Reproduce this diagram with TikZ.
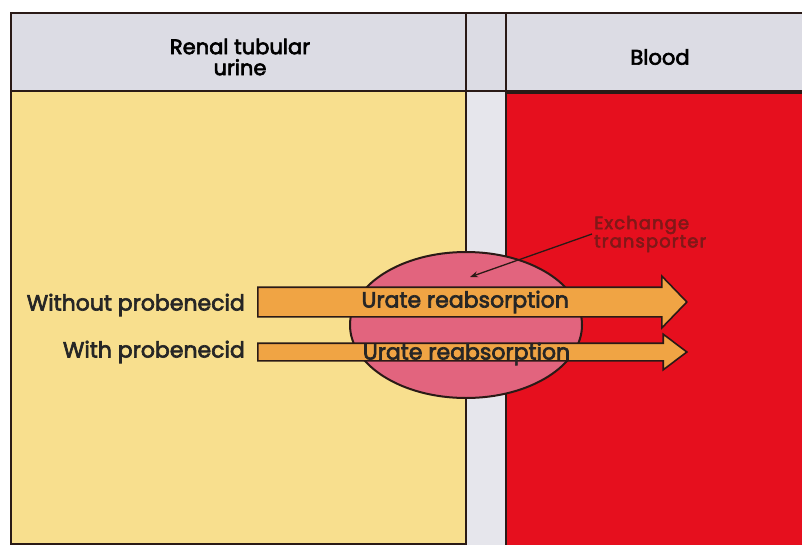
\documentclass[tikz,border=0pt]{standalone}
\usepackage{fontspec}
\setmainfont{Poppins}
\newfontfamily\medfont{Poppins}[FakeBold=3]
\usepackage{tikz}
\usetikzlibrary{
  shapes.geometric,
  shapes.arrows,
  arrows.meta,
  positioning
}
\definecolor{HdrGray}{HTML}{DCDCE4}
\definecolor{UrineYellow}{HTML}{F8DF8E}
\definecolor{MemGray}{HTML}{E6E6EC}
\definecolor{BloodRed}{HTML}{E60F1E}
\definecolor{XPink}{HTML}{E2647E}
\definecolor{UrateOrange}{HTML}{F0A444}
\definecolor{InkBrown}{HTML}{2A1A16}
\definecolor{XText}{HTML}{801818}
\tikzset{
  % Header cell: fixed height, text placed apart
  hdr/.style={
    rectangle, anchor=north west,
    draw=InkBrown, fill=HdrGray, line width=1.6pt,
    minimum height=78pt, inner sep=0pt
  },
  % Header text
  htxt/.style={align=center, font=\medfont\fontsize{21}{21}\selectfont},
  % Body panel
  panel/.style={
    rectangle, anchor=north west,
    draw=InkBrown, fill=#1, line width=1.6pt,
    inner sep=0pt
  },
  % Exchange transporter
  xpt/.style={
    ellipse, draw=InkBrown, fill=XPink, line width=2pt,
    minimum width=232pt, minimum height=146pt
  },
  % Reabsorption arrow: #1 = half body thickness
  flow/.style={
    single arrow, anchor=west,
    draw=InkBrown, fill=UrateOrange, line width=1.6pt,
    inner xsep=0pt, inner ysep=#1,
    text height=0pt, text depth=0pt
  },
  % Row label
  lbl/.style={font=\medfont\fontsize{22}{24}\selectfont, text=black!85, inner sep=0pt},
  % Pointer
  ptr/.style={-{Stealth[length=8pt,width=6pt]}, line width=1.3pt, color=InkBrown}
}
\begin{document}
\begin{tikzpicture}[x=1pt,y=-1pt]
  \useasboundingbox[fill=white] (0,0) rectangle (802,545);

  % Headers and panels
  \node[hdr, minimum width=455pt] (hurine) at (10,12) {};
  \node[hdr, minimum width=40pt]  (hmem)   at (465,12) {};
  \node[hdr, minimum width=340pt] (hblood) at (505,12) {};
  \node[panel=UrineYellow, minimum width=455pt, minimum height=453pt] (urine) at (10,90) {};
  \node[panel=MemGray,     minimum width=40pt,  minimum height=460pt] (mem)   at (465,90) {};
  \node[panel=BloodRed,    minimum width=340pt, minimum height=460pt] (blood) at (505,92) {};

  \node[htxt] (turine) at (240,57) {Renal tubular\\urine};
  \node[htxt] (tblood) at (660,57) {Blood};

  % Transporter in the membrane
  \node[xpt] (xporter) at (466,325) {};

  % Urate flows
  \node[flow=14pt, single arrow head extend=11pt, single arrow tip angle=92,
    minimum height=429pt,
    label={[lbl]center:Urate reabsorption}] (without) at (257,302) {};
  \node[flow=8pt, single arrow head extend=9pt, single arrow tip angle=74,
    minimum height=429pt,
    label={[lbl, yshift=-2pt]center:Urate reabsorption}] (with) at (257,352) {};

  \node[lbl, anchor=east, left=12pt of without.west, yshift=-3pt] (lwithout) {Without probenecid};
  \node[lbl, anchor=east, left=12pt of with.west] (lwith) {With probenecid};

  % Pointer label
  \node[font=\medfont\fontsize{18}{17}\selectfont\addfontfeatures{LetterSpace=6}, text=XText,
    align=left, anchor=west, inner sep=2pt] (xlbl) at (592,234) {Exchange\\transporter};
  \coordinate (xtip) at (470,277);
  \draw[ptr] (xlbl.west) -- (xtip);

\end{tikzpicture}
\end{document}
